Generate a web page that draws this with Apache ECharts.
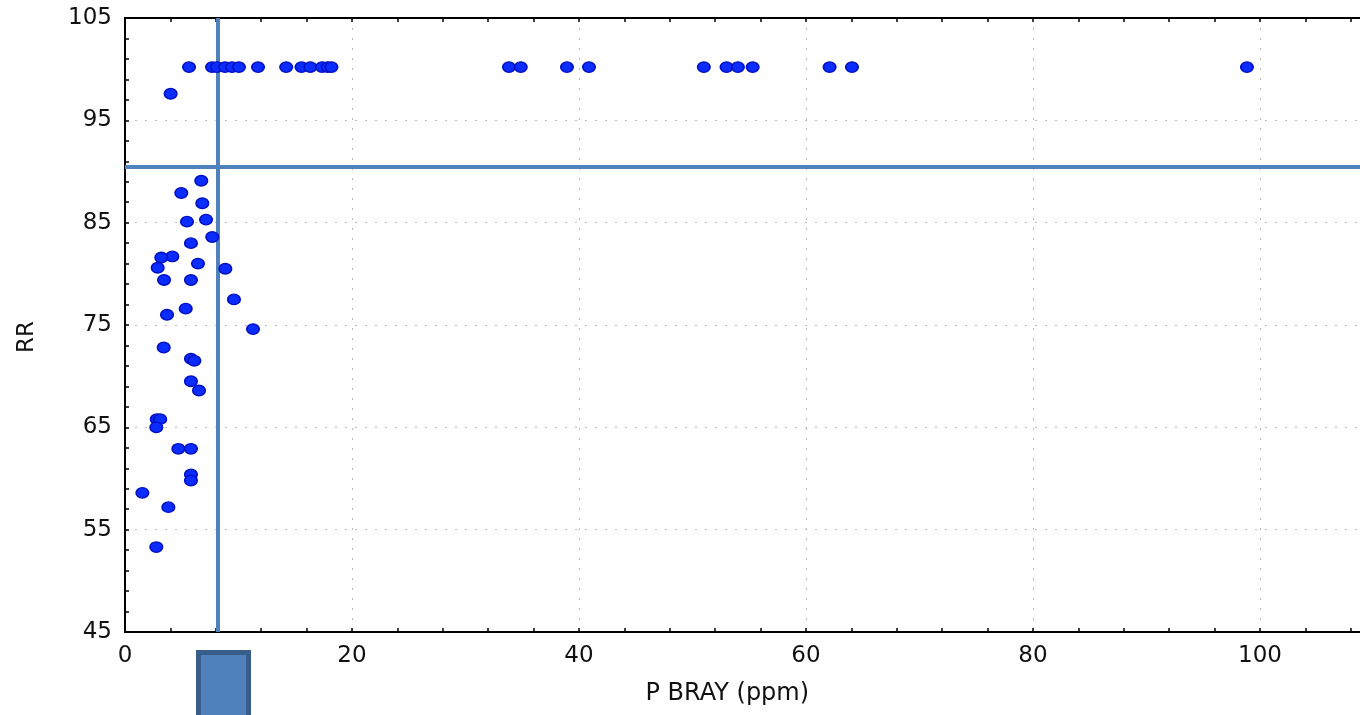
<!DOCTYPE html>
<html>
<head>
<meta charset="utf-8">
<script src="https://cdn.jsdelivr.net/npm/echarts@6/dist/echarts.min.js"></script>
<style>
html,body{margin:0;padding:0;background:#fff;}
#chart{width:1360px;height:715px;}
</style>
</head>
<body>
<div id="chart"></div>
<script>
// P BRAY (ppm) values
const pBray = [
  5.64, 7.67, 8.1, 8.81, 9.43, 10.04, 11.72, 14.2, 15.55, 16.33, 17.36, 17.86, 18.19,
  33.83, 34.87, 38.94, 40.88, 51.0, 53.0, 54.0, 55.3, 62.08, 64.05, 98.85,
  4.02, 6.72, 4.96, 6.81, 5.46, 7.14, 7.69, 5.81, 4.17, 3.2, 2.88, 6.43, 8.84,
  3.44, 5.81, 9.6, 5.35, 3.7, 11.28, 3.41, 5.81, 6.11, 5.81, 6.52, 2.8, 3.1,
  2.76, 4.7, 5.81, 5.81, 5.81, 1.53, 3.82, 2.76
];
// RR values
const rr = [
  100.2, 100.2, 100.2, 100.2, 100.2, 100.2, 100.2, 100.2, 100.2, 100.2, 100.2, 100.2, 100.2,
  100.2, 100.2, 100.2, 100.2, 100.2, 100.2, 100.2, 100.2, 100.2, 100.2, 100.2,
  97.6, 89.1, 87.9, 86.9, 85.1, 85.3, 83.6, 83.0, 81.7, 81.6, 80.6, 81.0, 80.5,
  79.4, 79.4, 77.5, 76.6, 76.0, 74.6, 72.8, 71.7, 71.5, 69.5, 68.6, 65.8, 65.8,
  65.0, 62.9, 62.9, 60.4, 59.8, 58.6, 57.2, 53.3
];
// critical level lines
const criticalP = [8.2];
const criticalRR = [90.5];
const xTicks = [0, 20, 40, 60, 80, 100];
const yTicks = [45, 55, 65, 75, 85, 95, 105];

const points = pBray.map((x, i) => [x, rr[i]]);

const FONT = '"DejaVu Sans", "Liberation Sans", Arial, sans-serif';
const gridDotted = {show: true, lineStyle: {color: '#bcbcbc', width: 1, type: [2, 8]}};

const chart = echarts.init(document.getElementById('chart'), null, {renderer: 'canvas'});
chart.setOption({
  animation: false,
  backgroundColor: '#ffffff',
  grid: {left: 125, top: 18, width: 1248.5, height: 614, containLabel: false, outerBoundsMode: 'none'},
  xAxis: [{
    type: 'value', position: 'bottom', min: 0, max: 110, interval: 20,
    name: 'P BRAY (ppm)', nameLocation: 'middle', nameGap: 50,
    nameTextStyle: {fontFamily: FONT, fontSize: 24, color: '#111', padding: [0, 44, 0, 0]},
    axisLine: {show: true, onZero: false, lineStyle: {color: '#000', width: 2}},
    axisTick: {show: true, inside: true, length: 4, lineStyle: {color: '#000', width: 1.5}},
    minorTick: {show: true, splitNumber: 5, length: 4, lineStyle: {color: '#000', width: 1.5}},
    axisLabel: {fontFamily: FONT, fontSize: 23, color: '#111', margin: 13, showMaxLabel: false,
      formatter: v => xTicks.indexOf(v) >= 0 ? String(v) : ''},
    splitLine: Object.assign({showMinLine: false, showMaxLine: false}, gridDotted)
  }, {
    type: 'value', position: 'top', min: 0, max: 110, interval: 20,
    axisLine: {show: true, onZero: false, lineStyle: {color: '#000', width: 2}},
    axisTick: {show: true, inside: true, length: 4, lineStyle: {color: '#000', width: 1.5}},
    minorTick: {show: true, splitNumber: 5, length: 4, lineStyle: {color: '#000', width: 1.5}},
    axisLabel: {show: false},
    splitLine: {show: false}
  }],
  yAxis: [{
    type: 'value', min: 45, max: 105, interval: 10,
    name: 'RR', nameLocation: 'middle', nameGap: 86, nameRotate: 90,
    nameTextStyle: {fontFamily: FONT, fontSize: 23, color: '#111', padding: [0, 24, 0, 0]},
    axisLine: {show: true, onZero: false, lineStyle: {color: '#000', width: 2}},
    axisTick: {show: true, inside: true, length: 4, lineStyle: {color: '#000', width: 1.5}},
    minorTick: {show: true, splitNumber: 5, length: 4, lineStyle: {color: '#000', width: 1.5}},
    axisLabel: {fontFamily: FONT, fontSize: 23, color: '#111', margin: 13,
      formatter: v => yTicks.indexOf(v) >= 0 ? String(v) : ''},
    splitLine: Object.assign({showMinLine: false, showMaxLine: false}, gridDotted)
  }],
  series: [{
    type: 'scatter',
    xAxisIndex: 0, yAxisIndex: 0,
    data: points,
    symbol: 'circle',
    symbolSize: [12.5, 10.5],
    itemStyle: {color: '#0a2cff', borderColor: '#0010c0', borderWidth: 1.5, opacity: 1},
    z: 5,
    markLine: {
      silent: true, symbol: 'none', animation: false,
      label: {show: false},
      lineStyle: {color: '#4f81bd', width: 4, type: 'solid'},
      data: criticalP.map(v => ({xAxis: v})).concat(criticalRR.map(v => ({yAxis: v})))
    }
  }],
  graphic: [{
    type: 'rect', z: 100,
    shape: {x: 198.5, y: 652.5, width: 50, height: 80},
    style: {fill: '#4f81bd', stroke: '#385d8a', lineWidth: 5}
  }]
});
</script>
</body>
</html>
